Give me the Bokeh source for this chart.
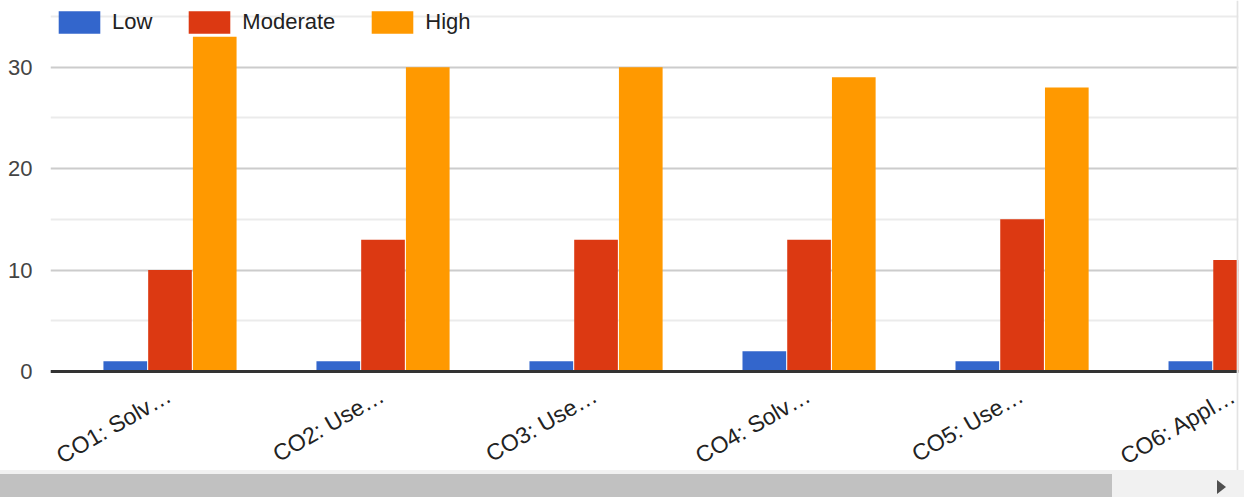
import math
from bokeh.plotting import figure
from bokeh.models import ColumnDataSource, Range1d, FixedTicker, Div, LabelSet, Span
from bokeh.core.properties import value
from bokeh.transform import dodge
from bokeh.layouts import column
from bokeh.embed import file_html
from bokeh.resources import INLINE

# ---- data ----
categories = ["CO1: Solv…", "CO2: Use…", "CO3: Use…", "CO4: Solv…", "CO5: Use…", "CO6: Appl…"]
low = [1, 1, 1, 2, 1, 1]
moderate = [10, 13, 13, 13, 15, 11]
high = [33, 30, 30, 29, 28, float("nan")]  # CO6 'High' is scrolled out of view
series_names = ["Low", "Moderate", "High"]
colors = ["#3366cc", "#dc3912", "#ff9900"]
y_major = [0, 10, 20, 30]
y_minor = [5, 15, 25, 35]

idx = list(range(len(categories)))
src = ColumnDataSource(dict(x=idx, low=low, moderate=moderate, high=high,
                            cat=categories, base=[0] * len(categories)))

FONT = "Liberation Sans"

# frame spans the whole canvas height; 0..35 occupies pixels 16..371
PX_PER_UNIT = 355 / 35
y_end = 35 + 16 / PX_PER_UNIT
y_start = -(470 - 371) / PX_PER_UNIT

p = figure(width=1240, height=470, output_backend="svg", toolbar_location=None,
           x_range=Range1d(-0.561, 5.016), y_range=Range1d(y_start, y_end),
           x_axis_location=None,
           min_border_left=50, min_border_right=2, min_border_top=0, min_border_bottom=0)
p.background_fill_color = "white"
p.border_fill_color = "white"
p.outline_line_color = None

bw = 0.205
off = 0.21
p.vbar(x=dodge("x", -off, range=p.x_range), top="low", width=bw, source=src,
       color=colors[0], line_color=None, legend_label=series_names[0])
p.vbar(x=dodge("x", 0.0, range=p.x_range), top="moderate", width=bw, source=src,
       color=colors[1], line_color=None, legend_label=series_names[1])
p.vbar(x=dodge("x", off, range=p.x_range), top="high", width=bw, source=src,
       color=colors[2], line_color=None, legend_label=series_names[2])

# grid
yt = FixedTicker(ticks=y_major, minor_ticks=y_minor)
p.yaxis.ticker = yt
p.ygrid.ticker = yt
p.ygrid.grid_line_color = "#cccccc"
p.ygrid.grid_line_width = 2
p.ygrid.minor_grid_line_color = "#ebebeb"
p.ygrid.minor_grid_line_width = 2
p.xgrid.grid_line_color = None

# y axis
p.yaxis.axis_line_color = None
p.yaxis.major_tick_line_color = None
p.yaxis.minor_tick_line_color = None
p.yaxis.major_label_standoff = 12
p.yaxis.major_label_text_font = FONT
p.yaxis.major_label_text_font_size = "22px"
p.yaxis.major_label_text_color = "#444444"

# baseline
p.add_layout(Span(location=0, dimension="width", line_color="#333333", line_width=3))
# right edge of the scroll container
p.add_layout(Span(location=5.012, dimension="height", line_color="#e3e3e3", line_width=2))

# rotated category labels
cat_labels = LabelSet(x="x", y="base", text="cat", source=src,
                      angle=math.pi / 6, text_align="right", text_baseline="middle",
                      x_offset=-1, y_offset=-22,
                      text_font=value(FONT), text_font_size=value("23px"),
                      text_color="#222222")
p.add_layout(cat_labels)

# legend
lg = p.legend[0]
lg.orientation = "horizontal"
lg.location = (3, 434)
lg.glyph_width = 52
lg.glyph_height = 28
lg.label_height = 28
lg.label_standoff = 7
lg.spacing = 31
lg.padding = 0
lg.margin = 0
lg.border_line_color = None
lg.background_fill_alpha = 0
lg.label_text_font = FONT
lg.label_text_font_size = "22px"
lg.label_text_color = "#222222"

scroll_html = (
    '<div style="position:relative;left:0;width:1244px;height:27px;background:#f1f1f1;">'
    '<div style="position:absolute;left:0;top:4px;width:1112px;height:23px;background:#c1c1c1;"></div>'
    '<div style="position:absolute;left:1217px;top:10px;width:0;height:0;'
    'border-top:7px solid transparent;border-bottom:7px solid transparent;'
    'border-left:9px solid #505050;"></div>'
    '</div>'
)
bar = Div(text=scroll_html, width=1244, height=27, margin=0)

layout = column(p, bar, spacing=0)
open("out.html", "w").write(file_html(layout, INLINE))
